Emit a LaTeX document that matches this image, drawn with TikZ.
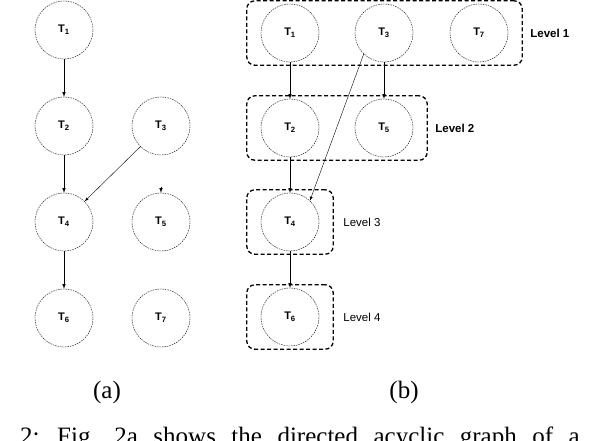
\documentclass[tikz,border=0pt]{standalone}
\usepackage{fontspec}
\setmainfont{Liberation Serif}
\newfontfamily\arialfont{Liberation Sans}
\usepackage{tikz}
\usetikzlibrary{positioning, fit}

\tikzset{
  task/.style={draw, circle, minimum size=58pt, inner sep=0pt, line width=0.4pt,
    dash pattern=on 1.5pt off 1pt, font=\arialfont\fontsize{11}{12}\selectfont\bfseries},
  levelbox/.style={draw, rounded corners=8pt, line width=1.3pt,
    dash pattern=on 4pt off 2.5pt, inner xsep=14pt, inner ysep=3pt},
  levellabel/.style={font=\arialfont\fontsize{11.5}{13}\selectfont},
  levelbold/.style={font=\arialfont\fontsize{11.5}{13}\selectfont\bfseries},
  dep/.style={-latex, line width=0.6pt},
  subcap/.style={font=\fontsize{25}{28}\selectfont}
}

\begin{document}
\begin{tikzpicture}[x=1pt, y=1pt]
        \useasboundingbox (0,0) rectangle (590,-440);
        % (a) task graph
        \node[task] (A1) at (64,-30) {T\textsubscript{1}};
        \node[task] (A2) at (64,-126) {T\textsubscript{2}};
        \node[task] (A3) at (161,-126) {T\textsubscript{3}};
        \node[task] (A4) at (64,-222) {T\textsubscript{4}};
        \node[task] (A5) at (161,-222) {T\textsubscript{5}};
        \node[task] (A6) at (64,-318) {T\textsubscript{6}};
        \node[task] (A7) at (161,-318) {T\textsubscript{7}};
        \coordinate (A5in) at (161,-187);
        \draw[dep] (A1) -- (A2);
        \draw[dep] (A2) -- (A4);
        \draw[dep, line width=0.4pt] (A3.225) -- (A4.45);
        \draw[dep] (A4) -- (A6);
        \draw[dep] (A5in) -- (A5);
        % (b) levels
        \node[task] (B1) at (290,-33) {T\textsubscript{1}};
        \node[task] (B3) at (384,-33) {T\textsubscript{3}};
        \node[task] (B7) at (479,-33) {T\textsubscript{7}};
        \node[task] (B2) at (290,-128) {T\textsubscript{2}};
        \node[task] (B5) at (384,-128) {T\textsubscript{5}};
        \node[task] (B4) at (290,-222) {T\textsubscript{4}};
        \node[task] (B6) at (290,-317) {T\textsubscript{6}};
        \node[levelbox, fit=(B1)(B7)] (Level1) {};
        \node[levelbox, fit=(B2)(B5)] (Level2) {};
        \node[levelbox, fit=(B4)] (Level3) {};
        \node[levelbox, fit=(B6)] (Level4) {};
        \node[levelbold, right=4pt of Level1] (Lab1) {Level 1};
        \node[levelbold, right=4pt of Level2] (Lab2) {Level 2};
        \node[levellabel, right=6pt of Level3] (Lab3) {Level 3};
        \node[levellabel, right=6pt of Level4] (Lab4) {Level 4};
        \draw[dep] (B1) -- (B2);
        \draw[dep] (B3) -- (B5);
        \draw[dep] (B2) -- (B4);
        \draw[dep] (B4) -- (B6);
        \draw[dep, line width=0.4pt] (B3.226) -- (B4.47);
        % captions
        \node[subcap] (CapA) at (107,-392) {(a)};
        \node[subcap] (CapB) at (404,-392) {(b)};
        \node[subcap, anchor=base west, inner sep=0pt] (Caption) at (20,-444)
          {\spaceskip=15.5pt 2: Fig. 2a shows the directed acyclic graph of a};
    \end{tikzpicture}
\end{document}
